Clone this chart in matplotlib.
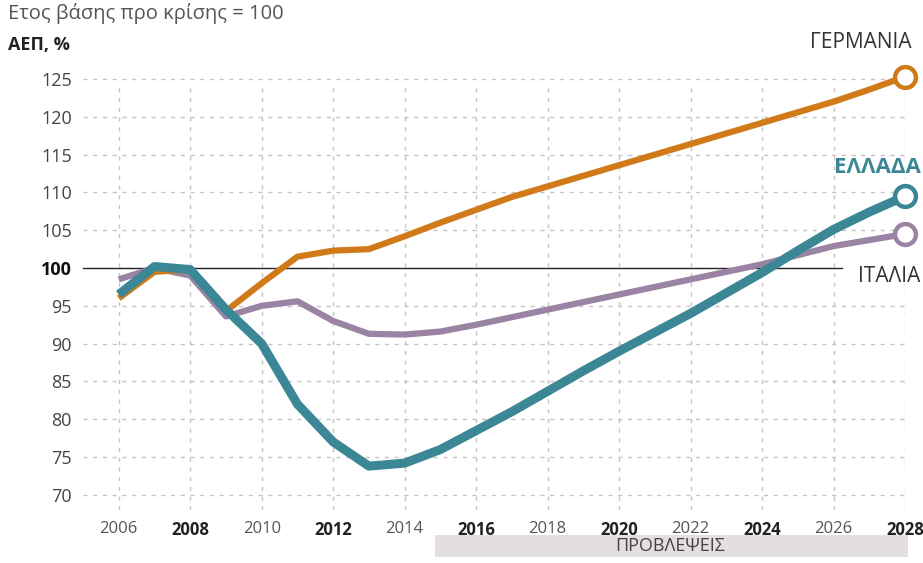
import matplotlib.pyplot as plt
from matplotlib.patches import Rectangle
import matplotlib.transforms as mtransforms

plt.rcParams['font.family'] = ['Open Sans', 'DejaVu Sans']

years = list(range(2006, 2029))
germany = [96.0, 99.5, 99.8, 94.3, 98.0, 101.5, 102.3, 102.5, 104.2, 106.0, 107.7, 109.4,
           110.8, 112.2, 113.6, 115.0, 116.4, 117.8, 119.2, 120.6, 122.0, 123.6, 125.3]
greece = [96.5, 100.2, 99.8, 94.5, 90.0, 82.0, 77.0, 73.8, 74.2, 76.0, 78.5, 81.0,
          83.7, 86.4, 89.0, 91.5, 94.0, 96.7, 99.4, 102.3, 105.1, 107.4, 109.5]
italy = [98.5, 100.0, 99.0, 93.6, 95.0, 95.6, 93.0, 91.3, 91.2, 91.6, 92.5, 93.5,
         94.5, 95.5, 96.5, 97.5, 98.5, 99.5, 100.5, 101.7, 102.9, 103.7, 104.5]

yticks = [70, 75, 80, 85, 90, 95, 100, 105, 110, 115, 120, 125]
xticks = list(range(2006, 2029, 2))
bold_years = [2008, 2012, 2016, 2020, 2024, 2028]

c_ger = '#D07A1A'
c_gre = '#3B8796'
c_ita = '#9A83A3'

fig = plt.figure(figsize=(9.23, 5.63), dpi=100)
W, H = 923, 563
left, right, top, bottom = 83, 905, 79, 510
ax = fig.add_axes([left / W, 1 - bottom / H, (right - left) / W, (bottom - top) / H])
ax.set_xlim(2005, 2028)
ax.set_ylim(68, 125)

for s in ax.spines.values():
    s.set_visible(False)

# grid
for y in yticks:
    if y != 100:
        ax.axhline(y, color='#c4c4c4', lw=1, ls=(0, (3, 4)), zorder=0, clip_on=False)
for x in xticks:
    ax.axvline(x, ymax=0.99, color='#c4c4c4', lw=1, ls=(0, (3, 4)), zorder=0)
ax.plot([2005, 2026.25], [100, 100], color='#222222', lw=1, zorder=1, clip_on=False)

ax.plot(years, italy, color=c_ita, lw=4.5, solid_capstyle='butt', zorder=2, clip_on=False)
ax.plot(years, germany, color=c_ger, lw=4.5, solid_capstyle='butt', zorder=3, clip_on=False)
ax.plot(years, greece, color=c_gre, lw=6.5, solid_capstyle='butt', zorder=4, clip_on=False)
for ser, c in [(italy, c_ita), (germany, c_ger), (greece, c_gre)]:
    ax.plot(years[-1], ser[-1], 'o', ms=15, mfc='white', mec=c, mew=3.2, zorder=5, clip_on=False)

ax.set_xticks(xticks)
ax.set_yticks(yticks)
ax.tick_params(length=0, pad=8)
ax.set_xticklabels([str(x) for x in xticks])
for lab, x in zip(ax.get_xticklabels(), xticks):
    lab.set_fontsize(12)
    if x in bold_years:
        lab.set_fontweight('bold')
        lab.set_color('#222222')
    else:
        lab.set_color('#555555')
ax.set_yticklabels([str(y) for y in yticks])
for lab, y in zip(ax.get_yticklabels(), yticks):
    lab.set_fontsize(13)
    if y == 100:
        lab.set_fontweight('bold')
        lab.set_color('#111111')
    else:
        lab.set_color('#444444')

# series labels
ax.text(912 / W, 1 - 43 / H, 'ΓΕΡΜΑΝΙΑ', transform=fig.transFigure, ha='right', va='center',
        fontsize=15, color='#333333')
ax.text(921 / W, 1 - 167 / H, 'ΕΛΛΑΔΑ', transform=fig.transFigure, ha='right', va='center',
        fontsize=16, fontweight='bold', color=c_gre)
ax.text(858 / W, 1 - 276 / H, 'ΙΤΑΛΙΑ', transform=fig.transFigure, ha='left', va='center',
        fontsize=15, color='#333333')

# titles
fig.text(8 / W, 1 - 14 / H, 'Ετος βάσης προ κρίσης = 100', ha='left', va='center',
         fontsize=14.5, color='#555555')
fig.text(8 / W, 1 - 45 / H, 'ΑΕΠ, %', ha='left', va='center', fontsize=13,
         fontweight='bold', color='#222222')

# forecast bar
trans = mtransforms.blended_transform_factory(ax.transData, fig.transFigure)
ax.add_patch(Rectangle((2014.85, 1 - 557 / H), 2028.08 - 2014.85, 22 / H, transform=trans,
                       facecolor='#E3DFDE', edgecolor='none', clip_on=False))
fig.text(670 / W, 1 - 546 / H, 'ΠΡΟΒΛΕΨΕΙΣ', ha='center', va='center', fontsize=13,
         color='#444444')

fig.savefig('out.png', dpi=100)
